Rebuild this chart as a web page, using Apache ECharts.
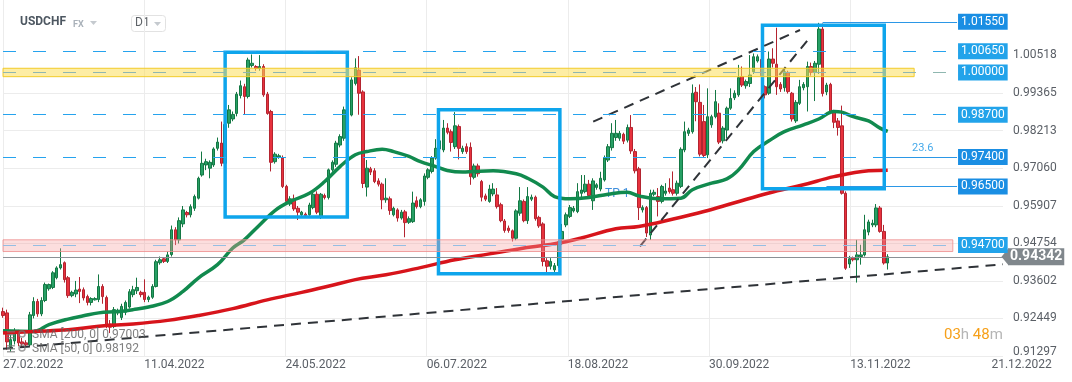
<!DOCTYPE html>
<html><head><meta charset="utf-8">
<script src="https://cdn.jsdelivr.net/npm/echarts@6/dist/echarts.min.js"></script>
<style>html,body{margin:0;padding:0;background:#fff;}#c{width:1072px;height:382px;}</style>
</head><body><div id="c"></div>
<script>
// ---------- data ----------
const tickLabelsX = ['27.02.2022','11.04.2022','24.05.2022','06.07.2022','18.08.2022','30.09.2022','13.11.2022','21.12.2022'];
const tickLabelsY = ['0.91297','0.92449','0.93602','0.94754','0.95907','0.97060','0.98213','0.99365','1.00518'];
// daily candles [open, close, low, high]
const ohlc = [
[0.9266,0.9254,0.9247,0.9278],[0.9262,0.9173,0.9149,0.9272],[0.9158,0.9180,0.9143,0.9195],[0.9176,0.9207,0.9165,0.9215],
[0.9201,0.9170,0.9160,0.9210],[0.9173,0.9167,0.9155,0.9185],[0.9170,0.9164,0.9160,0.9178],[0.9164,0.9256,0.9160,0.9265],
[0.9254,0.9297,0.9245,0.9310],[0.9297,0.9259,0.9250,0.9305],[0.9259,0.9300,0.9252,0.9310],[0.9300,0.9349,0.9295,0.9355],
[0.9336,0.9349,0.9330,0.9352],[0.9340,0.9385,0.9335,0.9390],[0.9370,0.9400,0.9365,0.9405],[0.9400,0.9410,0.9395,0.9460],
[0.9416,0.9364,0.9355,0.9420],[0.9370,0.9315,0.9308,0.9375],[0.9315,0.9325,0.9310,0.9330],[0.9320,0.9332,0.9310,0.9360],
[0.9335,0.9328,0.9292,0.9372],[0.9333,0.9308,0.9300,0.9340],[0.9312,0.9294,0.9285,0.9318],[0.9294,0.9306,0.9285,0.9310],
[0.9302,0.9306,0.9300,0.9310],[0.9303,0.9343,0.9295,0.9380],[0.9343,0.9312,0.9290,0.9350],[0.9309,0.9225,0.9215,0.9315],
[0.9228,0.9218,0.9200,0.9240],[0.9220,0.9272,0.9215,0.9280],[0.9262,0.9268,0.9255,0.9275],[0.9248,0.9282,0.9240,0.9290],
[0.9264,0.9294,0.9255,0.9300],[0.9280,0.9327,0.9275,0.9335],[0.9318,0.9333,0.9310,0.9345],[0.9330,0.9340,0.9320,0.9370],
[0.9325,0.9318,0.9310,0.9330],[0.9325,0.9303,0.9295,0.9365],[0.9303,0.9310,0.9295,0.9315],[0.9310,0.9343,0.9305,0.9350],
[0.9343,0.9419,0.9340,0.9425],[0.9416,0.9425,0.9410,0.9435],[0.9428,0.9420,0.9415,0.9432],[0.9420,0.9440,0.9415,0.9450],
[0.9441,0.9517,0.9435,0.9530],[0.9517,0.9486,0.9470,0.9525],[0.9486,0.9545,0.9475,0.9555],[0.9535,0.9578,0.9525,0.9590],
[0.9570,0.9563,0.9555,0.9575],[0.9563,0.9588,0.9555,0.9595],[0.9583,0.9619,0.9575,0.9625],[0.9614,0.9675,0.9610,0.9680],
[0.9685,0.9721,0.9680,0.9757],[0.9716,0.9726,0.9700,0.9735],[0.9706,0.9724,0.9675,0.9730],[0.9716,0.9765,0.9710,0.9770],
[0.9767,0.9786,0.9760,0.9800],[0.9783,0.9721,0.9712,0.9849],[0.9721,0.9840,0.9715,0.9855],[0.9844,0.9885,0.9830,0.9900],
[0.9857,0.9871,0.9850,0.9880],[0.9874,0.9933,0.9865,0.9940],[0.9929,0.9959,0.9920,0.9975],[0.9956,0.9926,0.9870,0.9965],
[0.9926,1.0038,0.9920,1.0045],[1.0021,1.0028,1.0015,1.0055],[1.0018,1.0012,1.0005,1.0022],[1.0012,1.0018,1.0005,1.0053],
[1.0018,0.9931,0.9925,1.0025],[0.9933,0.9874,0.9870,0.9940],[0.9880,0.9724,0.9696,0.9885],[0.9726,0.9749,0.9720,0.9755],
[0.9740,0.9744,0.9735,0.9750],[0.9737,0.9650,0.9645,0.9745],[0.9650,0.9604,0.9600,0.9655],[0.9596,0.9612,0.9590,0.9620],
[0.9612,0.9581,0.9575,0.9625],[0.9583,0.9571,0.9547,0.9590],[0.9563,0.9571,0.9555,0.9575],[0.9565,0.9561,0.9555,0.9570],
[0.9563,0.9593,0.9555,0.9600],[0.9585,0.9626,0.9580,0.9632],[0.9626,0.9571,0.9565,0.9635],[0.9558,0.9626,0.9550,0.9630],
[0.9622,0.9616,0.9610,0.9628],[0.9616,0.9701,0.9610,0.9705],[0.9701,0.9724,0.9695,0.9730],[0.9718,0.9783,0.9710,0.9790],
[0.9777,0.9803,0.9770,0.9810],[0.9798,0.9885,0.9790,0.9895],[0.9869,0.9880,0.9860,0.9890],[0.9869,0.9977,0.9865,0.9985],
[0.9966,1.0014,0.9960,1.0043],[1.0007,0.9936,0.9870,1.0050],[0.9940,0.9659,0.9645,0.9945],[0.9648,0.9706,0.9619,0.9731],
[0.9704,0.9694,0.9685,0.9710],[0.9698,0.9665,0.9660,0.9706],[0.9667,0.9657,0.9650,0.9675],[0.9657,0.9609,0.9580,0.9662],
[0.9609,0.9614,0.9600,0.9675],[0.9612,0.9576,0.9563,0.9619],[0.9563,0.9583,0.9558,0.9588],[0.9578,0.9553,0.9542,0.9583],
[0.9553,0.9571,0.9548,0.9578],[0.9572,0.9539,0.9494,0.9578],[0.9540,0.9551,0.9535,0.9558],[0.9542,0.9599,0.9538,0.9634],
[0.9606,0.9588,0.9582,0.9619],[0.9588,0.9609,0.9583,0.9614],[0.9604,0.9682,0.9591,0.9690],[0.9678,0.9701,0.9672,0.9706],
[0.9696,0.9737,0.9690,0.9743],[0.9737,0.9767,0.9732,0.9795],[0.9765,0.9790,0.9760,0.9800],[0.9762,0.9829,0.9755,0.9854],
[0.9829,0.9816,0.9810,0.9844],[0.9818,0.9785,0.9757,0.9825],[0.9772,0.9836,0.9765,0.9878],[0.9834,0.9767,0.9733,0.9840],
[0.9757,0.9767,0.9750,0.9775],[0.9772,0.9757,0.9750,0.9782],[0.9770,0.9680,0.9655,0.9785],[0.9678,0.9713,0.9672,0.9720],
[0.9713,0.9689,0.9680,0.9720],[0.9665,0.9617,0.9604,0.9670],[0.9621,0.9611,0.9605,0.9628],[0.9604,0.9642,0.9600,0.9655],
[0.9627,0.9642,0.9620,0.9660],[0.9624,0.9588,0.9582,0.9645],[0.9594,0.9545,0.9540,0.9600],[0.9544,0.9515,0.9508,0.9550],
[0.9522,0.9515,0.9508,0.9530],[0.9514,0.9491,0.9481,0.9518],[0.9491,0.9575,0.9485,0.9580],[0.9568,0.9606,0.9560,0.9648],
[0.9604,0.9545,0.9540,0.9610],[0.9545,0.9619,0.9535,0.9648],[0.9611,0.9617,0.9605,0.9625],[0.9617,0.9551,0.9545,0.9622],
[0.9555,0.9529,0.9523,0.9560],[0.9535,0.9420,0.9405,0.9540],[0.9422,0.9405,0.9384,0.9430],[0.9405,0.9420,0.9395,0.9430],
[0.9394,0.9407,0.9385,0.9415],[0.9407,0.9480,0.9400,0.9485],[0.9488,0.9512,0.9470,0.9535],[0.9532,0.9563,0.9525,0.9570],
[0.9558,0.9585,0.9553,0.9593],[0.9575,0.9583,0.9570,0.9590],[0.9573,0.9634,0.9568,0.9660],[0.9629,0.9639,0.9609,0.9685],
[0.9634,0.9657,0.9629,0.9685],[0.9657,0.9622,0.9617,0.9670],[0.9606,0.9667,0.9578,0.9675],[0.9647,0.9655,0.9640,0.9660],
[0.9642,0.9675,0.9635,0.9695],[0.9670,0.9737,0.9665,0.9745],[0.9731,0.9772,0.9725,0.9780],[0.9769,0.9813,0.9760,0.9844],
[0.9800,0.9813,0.9790,0.9854],[0.9798,0.9813,0.9790,0.9820],[0.9810,0.9789,0.9780,0.9815],[0.9792,0.9831,0.9785,0.9840],
[0.9831,0.9759,0.9750,0.9869],[0.9757,0.9698,0.9690,0.9765],[0.9704,0.9585,0.9547,0.9710],[0.9578,0.9585,0.9570,0.9592],
[0.9585,0.9507,0.9495,0.9590],[0.9501,0.9629,0.9486,0.9640],[0.9626,0.9632,0.9620,0.9640],[0.9619,0.9604,0.9558,0.9645],
[0.9604,0.9650,0.9598,0.9655],[0.9629,0.9636,0.9622,0.9660],[0.9645,0.9634,0.9628,0.9675],[0.9640,0.9629,0.9622,0.9696],
[0.9629,0.9660,0.9622,0.9668],[0.9650,0.9764,0.9645,0.9770],[0.9762,0.9818,0.9755,0.9849],[0.9813,0.9823,0.9805,0.9830],
[0.9818,0.9936,0.9812,0.9963],[0.9939,0.9910,0.9850,0.9955],[0.9908,0.9749,0.9742,0.9963],[0.9849,0.9745,0.9738,0.9900],
[0.9747,0.9864,0.9737,0.9951],[0.9839,0.9864,0.9830,0.9870],[0.9864,0.9910,0.9859,0.9946],[0.9875,0.9786,0.9780,0.9905],
[0.9790,0.9829,0.9782,0.9835],[0.9823,0.9890,0.9798,0.9895],[0.9890,0.9920,0.9885,0.9951],[0.9922,0.9936,0.9915,0.9945],
[0.9931,0.9984,0.9925,1.0023],[0.9987,0.9961,0.9955,1.0018],[0.9959,0.9972,0.9950,0.9978],[0.9966,0.9992,0.9955,1.0053],
[1.0002,1.0048,0.9995,1.0058],[1.0035,1.0048,1.0030,1.0055],[1.0040,0.9990,0.9980,1.0050],[0.9956,0.9931,0.9920,0.9960],
[0.9936,1.0041,0.9931,1.0064],[1.0041,1.0028,1.0015,1.0074],[1.0025,0.9956,0.9931,1.0137],[0.9963,0.9949,0.9940,0.9970],
[0.9953,1.0002,0.9941,1.0012],[1.0000,0.9941,0.9935,1.0005],[0.9936,0.9857,0.9849,0.9940],[0.9851,0.9908,0.9845,0.9915],
[0.9905,0.9956,0.9900,0.9977],[0.9953,0.9963,0.9945,0.9970],[0.9956,1.0018,0.9880,1.0033],[1.0018,1.0000,0.9990,1.0030],
[1.0000,1.0028,0.9912,1.0035],[1.0025,1.0133,0.9995,1.0152],[1.0133,0.9935,0.9926,1.0150],[0.9940,0.9961,0.9930,0.9968],
[0.9963,0.9880,0.9875,0.9968],[0.9880,0.9847,0.9829,0.9885],[0.9851,0.9831,0.9806,0.9860],[0.9836,0.9629,0.9625,0.9898],
[0.9629,0.9399,0.9394,0.9635],[0.9412,0.9428,0.9400,0.9437],[0.9430,0.9425,0.9420,0.9435],[0.9425,0.9440,0.9355,0.9486],
[0.9435,0.9440,0.9410,0.9471],[0.9440,0.9517,0.9435,0.9563],[0.9510,0.9541,0.9500,0.9548],[0.9532,0.9537,0.9525,0.9548],
[0.9532,0.9584,0.9525,0.9596],[0.9584,0.9512,0.9508,0.9590],[0.9512,0.9415,0.9410,0.9532],[0.9415,0.94342,0.9395,0.9442]
];
// moving averages [candle index, value]
const sma50 = [[0,0.9207],[8,0.9205],[12,0.9226],[17,0.9243],[21,0.9253],[25,0.9262],[30,0.9266],[34,0.9272],[38,0.9280],[43,0.9297],[47,0.9328],[51,0.9369],[56,0.9410],[60,0.9461],[63,0.9486],[67,0.9532],[71,0.9576],[75,0.9604],[80,0.9629],[84,0.9665],[88,0.9711],[92,0.9747],[95,0.9757],[99,0.9764],[102,0.9757],[106,0.9742],[109,0.9726],[113,0.9711],[116,0.9699],[120,0.9694],[123,0.9696],[128,0.9698],[134,0.9689],[137,0.9675],[141,0.9648],[144,0.9619],[148,0.9612],[153,0.9616],[158,0.9626],[163,0.9632],[166,0.9621],[171,0.9612],[177,0.9614],[180,0.9640],[185,0.9660],[189,0.9673],[192,0.9700],[196,0.9757],[200,0.9790],[204,0.9818],[209,0.9839],[213,0.9857],[217,0.9880],[219,0.9878],[222,0.9864],[226,0.9851],[229,0.9829],[231,0.9819]];
const sma200 = [[0,0.9200],[8,0.9205],[17,0.9210],[25,0.9221],[34,0.9228],[43,0.9239],[51,0.9254],[60,0.9275],[69,0.9302],[78,0.9325],[86,0.9347],[92,0.9364],[100,0.9379],[109,0.9401],[118,0.9425],[127,0.9443],[135,0.9459],[144,0.9474],[151,0.9492],[160,0.9520],[166,0.9527],[175,0.9550],[183,0.9573],[191,0.9600],[200,0.9630],[209,0.9655],[217,0.9680],[226,0.9698],[231,0.9700]];
const levelPrices = [1.0155, 1.0065, 1.0000, 0.9870, 0.9740, 0.9650, 0.9470];
const levelTags = ['1.01550','1.00650','1.00000','0.98700','0.97400','0.96500','0.94700'];
const lastPrice = 0.94342;
// rectangles [index from, price top, index to, price bottom]
const boxes = [[58.0,1.0062,89.9,0.9556],[113.7,0.9885,145.4,0.9382],[198.3,1.0145,230.1,0.9643]];
// price zones [low, high]
const yellowZone = [0.99868, 1.00126];
const pinkZone = [0.94503, 0.94862];
// trend lines [[index, price],[index, price]]
const trendLines = [[[0,0.9152],[261.1,0.9411]],[[154.1,0.9849],[208.1,1.0130]],[[166.3,0.9466],[210.1,1.0099]]];

// ---------- chart ----------
const X_MAX = 261.1, X_STEP = 36.87, Y_MIN = 0.91297, Y_MAX = 1.02221;
const TAG_X = 249.1;
const xTickValues = tickLabelsX.map((_, k) => +(k * X_STEP).toFixed(3));
const yTickValues = tickLabelsY.map(Number);
const chart = echarts.init(document.getElementById('c'), null, {renderer:'canvas', width:1072, height:382});

const dashBlue = '#26a3ee', tagLight = '#22a3ea', tagDark = '#1a8ee3';
const levelStyle = ['solidTag','dash','dashYellow','dash','fib','solidTag','dashPink'];
const levelStart = [214, 0, 0, 0, 0, 215, 0];
const markLines = [];
levelPrices.forEach((p, k) => {
  const st = levelStyle[k];
  const lbl = {show:true, position:'end', distance:1, formatter: levelTags[k], color:'#fff', fontSize:12, fontFamily:'Roboto',
    backgroundColor: (st==='solidTag'||st==='fib') ? tagDark : tagLight, padding:[2,3,1,3], lineHeight:13};
  if (st === 'fib') {
    markLines.push([{coord:[0,p], lineStyle:{color:dashBlue,width:1,type:[13,17]}, label:{show:false}},{coord:[230,p]}]);
    markLines.push([{coord:[230,p], lineStyle:{color:'#2b97e6',width:1,type:'solid'}, label:lbl},{coord:[TAG_X,p]}]);
  } else {
    let color = dashBlue, type = [13,17];
    if (st==='solidTag') { color = '#2b97e6'; type = 'solid'; }
    if (st==='dashYellow') color = '#8fb7b0';
    if (st==='dashPink') color = '#95bde2';
    markLines.push([{coord:[levelStart[k],p], lineStyle:{color,width:1,type}, label:lbl},{coord:[TAG_X,p]}]);
  }
});
markLines.push([{coord:[0,lastPrice], lineStyle:{color:'#8b9095',width:1,type:'solid'},
  label:{show:true, position:'end', distance:5, formatter:lastPrice.toFixed(5), color:'#fff', fontSize:14, fontWeight:'bold', fontFamily:'Roboto',
    backgroundColor:'#80878c', padding:[2,2,1,2], lineHeight:14}}, {coord:[X_MAX,lastPrice]}]);

const series = [
  {type:'candlestick', name:'USDCHF', z:2, barWidth:3,
   dimensions:['i','open','close','low','high'], encode:{x:0, y:[1,2,3,4]},
   data: ohlc.map((d,i)=>[i,d[0],d[1],d[2],d[3]]),
   itemStyle:{color:'#27a065', color0:'#e8323d', borderColor:'#147844', borderColor0:'#b42430', borderWidth:1}},
  {type:'line', name:'SMA50', z:3, data:sma50, smooth:0.4, symbol:'none', lineStyle:{color:'#118a4e', width:3.5}},
  {type:'line', name:'SMA200', z:3, data:sma200, smooth:0.4, symbol:'none', lineStyle:{color:'#d7141b', width:3.5}},
  {type:'line', name:'levels', z:5, data:[], symbol:'none', silent:true,
   markArea:{silent:true, z:5, data:[
     [{coord:[0,yellowZone[1]], itemStyle:{color:'rgba(252,222,90,0.55)', borderColor:'#f3cc2a', borderWidth:1}},{coord:[237.9,yellowZone[0]]}],
     [{coord:[0,pinkZone[1]], itemStyle:{color:'rgba(246,160,160,0.35)', borderColor:'rgba(238,140,140,0.8)', borderWidth:1}},{coord:[248.0,pinkZone[0]]}]
   ]},
   markLine:{silent:true, symbol:['none','none'], animation:false, data:markLines},
   markPoint:{silent:true, animation:false, data:[{coord:[X_MAX,lastPrice], symbol:'path://M0,50 L100,0 L100,100 Z', symbolSize:[7,17], symbolKeepAspect:false, symbolOffset:[2,0], itemStyle:{color:'#80878c'}, label:{show:false}}]}
  }
];
boxes.forEach(b => series.push({type:'line', z:4, symbol:'none', silent:true,
  data:[[b[0],b[1]],[b[2],b[1]],[b[2],b[3]],[b[0],b[3]],[b[0],b[1]]],
  lineStyle:{color:'#0ea5ec', width:3.5, join:'miter', cap:'square'}}));
trendLines.forEach(t => series.push({type:'line', z:4, symbol:'none', silent:true, data:t,
  lineStyle:{color:'#2f3338', width:2, type:[10,7]}}));

const legendIcon = (y) => [
  {type:'rect', shape:{x:7,y:y,width:8,height:1.5}, style:{fill:'rgba(120,120,120,0.7)'}, z:20},
  {type:'rect', shape:{x:7,y:y+3,width:8,height:1.5}, style:{fill:'rgba(120,120,120,0.7)'}, z:20},
  {type:'rect', shape:{x:7,y:y+6,width:8,height:1.5}, style:{fill:'rgba(120,120,120,0.7)'}, z:20},
  {type:'circle', shape:{cx:22,cy:y+3,r:3}, style:{fill:'none', stroke:'rgba(120,120,120,0.7)', lineWidth:1.5}, z:20}
];

chart.setOption({
  animation:false,
  backgroundColor:'#ffffff',
  textStyle:{fontFamily:'Roboto'},
  grid:{left:3, right:69, top:0, bottom:26, containLabel:false},
  xAxis:{type:'value', min:0, max:X_MAX,
    axisLine:{show:false}, axisTick:{show:false, customValues:xTickValues},
    axisLabel:{customValues:xTickValues, align:'left', margin:3, color:'#5a5f66', fontSize:12,
      formatter:(v)=>{const k=Math.round(v/X_STEP); return Math.abs(v-k*X_STEP)<0.5 ? (tickLabelsX[k]||'') : '';}},
    splitLine:{show:true, showMaxLine:false, lineStyle:{color:'#ececec', width:1}}},
  yAxis:{type:'value', position:'right', min:Y_MIN, max:Y_MAX, scale:true,
    axisLine:{show:false}, axisTick:{show:false, customValues:yTickValues},
    axisLabel:{customValues:yTickValues, margin:10, color:'#5a5f66', fontSize:12,
      formatter:(v)=>{let k=-1; yTickValues.forEach((t,j)=>{if(Math.abs(t-v)<1e-6)k=j;}); if(k<0) return ''; return k===0 ? '{b|'+tickLabelsY[k]+'}' : tickLabelsY[k];},
      rich:{b:{color:'#5a5f66', fontSize:12, padding:[0,0,8,0]}}},
    splitLine:{show:true, showMaxLine:false, lineStyle:{color:'#ececec', width:1}}},
  series,
  graphic:[
    {type:'text', left:20, top:16, style:{text:'USDCHF', font:'bold 12px Roboto', fill:'#4d5761'}},
    {type:'text', left:73, top:20, style:{text:'FX', font:'bold 9px Roboto', fill:'#a9b1b9'}},
    {type:'polygon', shape:{points:[[90,21],[97,21],[93.5,25]]}, style:{fill:'#c5cacf'}},
    {type:'rect', shape:{x:131.5,y:15.5,width:34,height:16,r:3}, style:{fill:'#fff', stroke:'#e2e2e2', lineWidth:1}},
    {type:'text', left:135, top:17, style:{text:'D1', font:'12px Roboto', fill:'#5f6368'}},
    {type:'polygon', shape:{points:[[154,22],[161,22],[157.5,26]]}, style:{fill:'#c5cacf'}},
    {type:'text', left:605, top:188, z:0, style:{text:'TP 1', font:'12px Roboto', fill:'#3f8fdc'}},
    {type:'text', left:912, top:143, style:{text:'23.6', font:'11px Roboto', fill:'#45a9ea'}},
    {type:'text', left:32, top:329, z:20, style:{text:'SMA [200, 0] 0.97003', font:'12px Roboto', fill:'rgba(95,95,95,0.8)'}},
    {type:'text', left:32, top:343, z:20, style:{text:'SMA [50, 0] 0.98192', font:'12px Roboto', fill:'rgba(95,95,95,0.8)'}},
    ...legendIcon(331), ...legendIcon(345),
    {type:'text', left:944, top:328, style:{text:'{o|03}{g|h} {o|48}{g|m}', font:'15px Roboto',
      rich:{o:{fill:'#f6a01a', font:'15px Roboto'}, g:{fill:'#b5b5b5', font:'15px Roboto'}}}}
  ]
});
</script></body></html>
